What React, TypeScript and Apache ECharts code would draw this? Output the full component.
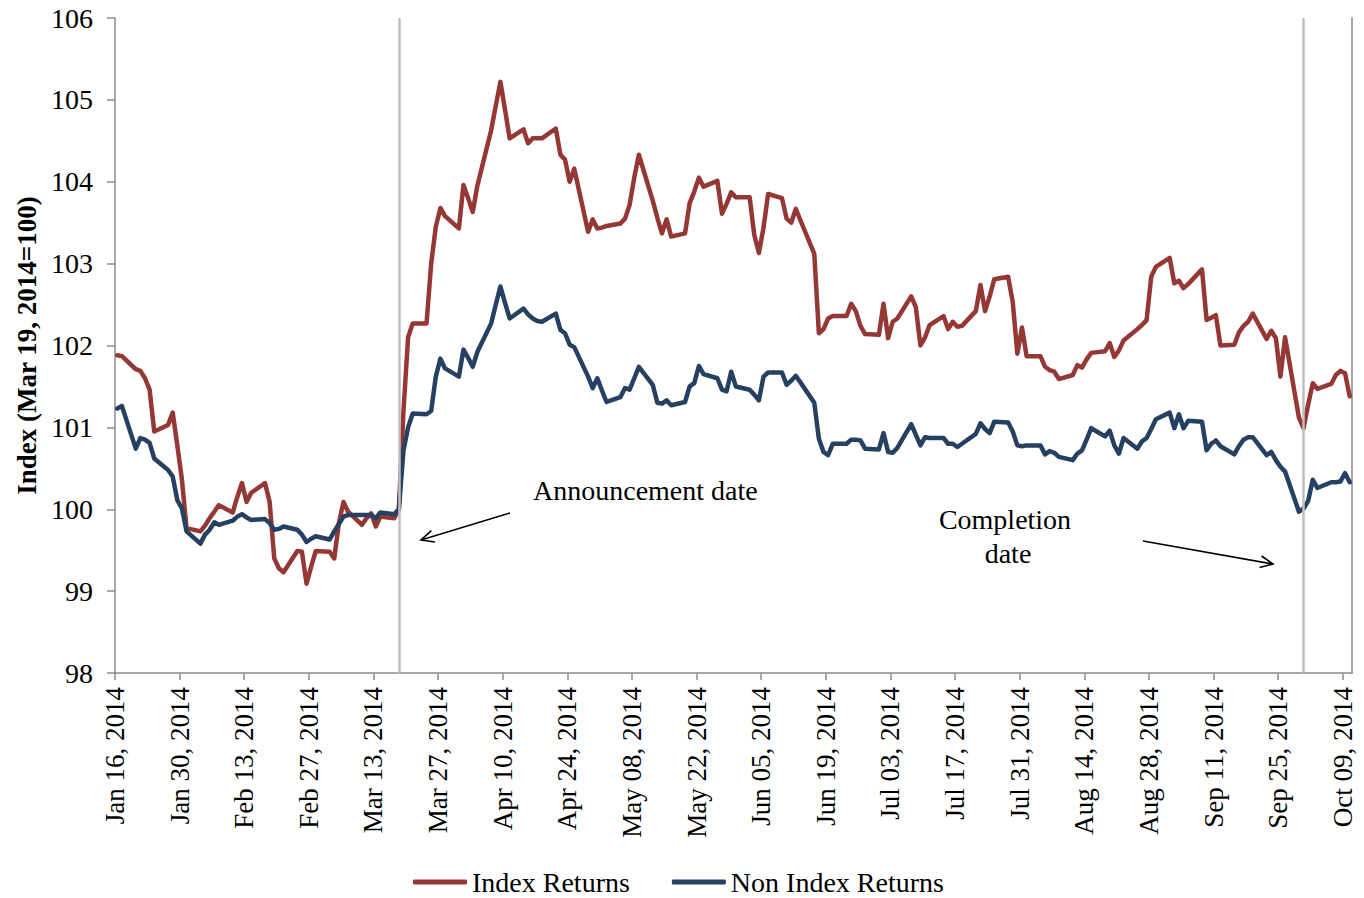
import React, { useEffect, useRef } from "react";
import * as echarts from "echarts";

// Trading days (one entry per point of both series)
const dates: string[] = [
  // January
  "2014-01-16", "2014-01-17", "2014-01-20", "2014-01-21", "2014-01-22", "2014-01-23", "2014-01-24",
  "2014-01-27", "2014-01-28", "2014-01-29", "2014-01-30", "2014-01-31",
  // February
  "2014-02-03", "2014-02-04", "2014-02-05", "2014-02-06", "2014-02-07", "2014-02-10", "2014-02-11",
  "2014-02-12", "2014-02-13", "2014-02-14", "2014-02-17", "2014-02-18", "2014-02-19", "2014-02-20",
  "2014-02-21", "2014-02-24", "2014-02-25", "2014-02-26", "2014-02-27", "2014-02-28",
  // March
  "2014-03-03", "2014-03-04", "2014-03-05", "2014-03-06", "2014-03-07", "2014-03-10", "2014-03-11",
  "2014-03-12", "2014-03-13", "2014-03-14", "2014-03-17", "2014-03-18", "2014-03-19", "2014-03-20",
  "2014-03-21", "2014-03-24", "2014-03-25", "2014-03-26", "2014-03-27", "2014-03-28", "2014-03-31",
  // April
  "2014-04-01", "2014-04-02", "2014-04-03", "2014-04-04", "2014-04-07", "2014-04-08", "2014-04-09",
  "2014-04-10", "2014-04-11", "2014-04-14", "2014-04-15", "2014-04-16", "2014-04-17", "2014-04-18",
  "2014-04-21", "2014-04-22", "2014-04-23", "2014-04-24", "2014-04-25", "2014-04-28", "2014-04-29",
  "2014-04-30",
  // May
  "2014-05-01", "2014-05-02", "2014-05-05", "2014-05-06", "2014-05-07", "2014-05-08", "2014-05-09",
  "2014-05-12", "2014-05-13", "2014-05-14", "2014-05-15", "2014-05-16", "2014-05-19", "2014-05-20",
  "2014-05-21", "2014-05-22", "2014-05-23", "2014-05-26", "2014-05-27", "2014-05-28", "2014-05-29",
  "2014-05-30",
  // June
  "2014-06-02", "2014-06-03", "2014-06-04", "2014-06-05", "2014-06-06", "2014-06-09", "2014-06-10",
  "2014-06-11", "2014-06-12", "2014-06-13", "2014-06-16", "2014-06-17", "2014-06-18", "2014-06-19",
  "2014-06-20", "2014-06-23", "2014-06-24", "2014-06-25", "2014-06-26", "2014-06-27", "2014-06-30",
  // July
  "2014-07-01", "2014-07-02", "2014-07-03", "2014-07-04", "2014-07-07", "2014-07-08", "2014-07-09",
  "2014-07-10", "2014-07-11", "2014-07-14", "2014-07-15", "2014-07-16", "2014-07-17", "2014-07-18",
  "2014-07-21", "2014-07-22", "2014-07-23", "2014-07-24", "2014-07-25", "2014-07-28", "2014-07-29",
  "2014-07-30", "2014-07-31",
  // August
  "2014-08-01", "2014-08-04", "2014-08-05", "2014-08-06", "2014-08-07", "2014-08-08", "2014-08-11",
  "2014-08-12", "2014-08-13", "2014-08-14", "2014-08-15", "2014-08-18", "2014-08-19", "2014-08-20",
  "2014-08-21", "2014-08-22", "2014-08-25", "2014-08-26", "2014-08-27", "2014-08-28", "2014-08-29",
  // September
  "2014-09-01", "2014-09-02", "2014-09-03", "2014-09-04", "2014-09-05", "2014-09-08", "2014-09-09",
  "2014-09-10", "2014-09-11", "2014-09-12", "2014-09-15", "2014-09-16", "2014-09-17", "2014-09-18",
  "2014-09-19", "2014-09-22", "2014-09-23", "2014-09-24", "2014-09-25", "2014-09-26", "2014-09-29",
  "2014-09-30",
  // October
  "2014-10-01", "2014-10-02", "2014-10-03", "2014-10-06", "2014-10-07", "2014-10-08", "2014-10-09",
  "2014-10-10",
];

const indexReturns: number[] = [
  // January
  101.88, 101.87, 101.71, 101.69, 101.60, 101.46, 100.95, 101.03, 101.18, 100.78, 100.36, 99.77,
  // February
  99.73, 99.80, 99.89, 99.97, 100.05, 99.96, 100.15, 100.32, 100.09, 100.20, 100.32, 100.09, 99.40, 99.28,
  99.23, 99.49, 99.48, 99.09, 99.30, 99.49,
  // March
  99.48, 99.40, 99.83, 100.09, 99.97, 99.81, 99.89, 99.95, 99.79, 99.91, 99.89, 100.00, 101.20, 102.10,
  102.27, 102.27, 103.00, 103.45, 103.68, 103.58, 103.43,
  // April
  103.96, 103.80, 103.63, 103.95, 104.63, 104.93, 105.22, 104.88, 104.53, 104.64, 104.47, 104.53, 104.53,
  104.53, 104.65, 104.33, 104.27, 104.00, 104.16, 103.39, 103.54, 103.43,
  // May
  103.44, 103.46, 103.49, 103.55, 103.72, 104.05, 104.33, 103.77, 103.56, 103.37, 103.54, 103.33, 103.37,
  103.74, 103.88, 104.05, 103.94, 104.01, 103.61, 103.73, 103.87, 103.81,
  // June
  103.81, 103.35, 103.13, 103.44, 103.85, 103.80, 103.55, 103.50, 103.67, 103.53, 103.12, 102.15, 102.20,
  102.33, 102.36, 102.36, 102.51, 102.42, 102.24, 102.14, 102.13,
  // July
  102.51, 102.09, 102.29, 102.33, 102.60, 102.47, 102.00, 102.10, 102.25, 102.36, 102.20, 102.29, 102.23,
  102.24, 102.42, 102.74, 102.42, 102.60, 102.81, 102.84, 102.53, 101.90, 102.22,
  // August
  101.87, 101.87, 101.74, 101.70, 101.68, 101.59, 101.64, 101.76, 101.73, 101.83, 101.91, 101.93, 102.03,
  101.86, 101.94, 102.06, 102.20, 102.25, 102.31, 102.84, 102.96,
  // September
  103.07, 102.76, 102.79, 102.70, 102.75, 102.93, 102.31, 102.34, 102.37, 102.00, 102.01, 102.16, 102.24,
  102.29, 102.39, 102.08, 102.18, 102.09, 101.62, 102.10, 101.12, 100.99,
  // October
  101.28, 101.54, 101.47, 101.53, 101.64, 101.69, 101.66, 101.38,
];

const nonIndexReturns: number[] = [
  // January
  101.23, 101.26, 100.74, 100.87, 100.85, 100.81, 100.62, 100.48, 100.40, 100.11, 100.01, 99.73,
  // February
  99.58, 99.69, 99.75, 99.84, 99.81, 99.86, 99.91, 99.94, 99.90, 99.87, 99.88, 99.83, 99.75, 99.76,
  99.79, 99.75, 99.69, 99.60, 99.64, 99.67,
  // March
  99.63, 99.73, 99.82, 99.91, 99.93, 99.93, 99.93, 99.93, 99.89, 99.96, 99.94, 100.00, 100.72, 101.00,
  101.17, 101.16, 101.20, 101.62, 101.84, 101.72, 101.62,
  // April
  101.95, 101.85, 101.74, 101.92, 102.27, 102.50, 102.72, 102.52, 102.33, 102.45, 102.38, 102.33, 102.30,
  102.29, 102.39, 102.19, 102.15, 102.01, 101.98, 101.62, 101.48, 101.60,
  // May
  101.45, 101.31, 101.37, 101.48, 101.46, 101.60, 101.74, 101.52, 101.30, 101.29, 101.33, 101.27, 101.31,
  101.50, 101.54, 101.75, 101.65, 101.60, 101.46, 101.44, 101.68, 101.50,
  // June
  101.46, 101.40, 101.33, 101.62, 101.67, 101.67, 101.52, 101.57, 101.63, 101.55, 101.30, 100.86, 100.70,
  100.66, 100.80, 100.80, 100.85, 100.85, 100.84, 100.74, 100.73,
  // July
  100.93, 100.70, 100.69, 100.75, 101.04, 100.91, 100.78, 100.88, 100.87, 100.87, 100.80, 100.80, 100.76,
  100.80, 100.92, 101.05, 100.98, 100.93, 101.07, 101.06, 100.95, 100.78, 100.77,
  // August
  100.78, 100.78, 100.67, 100.71, 100.69, 100.64, 100.60, 100.68, 100.72, 100.85, 100.99, 100.89, 100.96,
  100.78, 100.68, 100.87, 100.74, 100.83, 100.87, 100.98, 101.10,
  // September
  101.18, 100.99, 101.16, 100.99, 101.08, 101.07, 100.72, 100.80, 100.84, 100.77, 100.67, 100.77, 100.85,
  100.88, 100.88, 100.66, 100.70, 100.60, 100.52, 100.46, 99.97, 100.01,
  // October
  100.10, 100.36, 100.26, 100.33, 100.33, 100.34, 100.44, 100.33,
];

const xTickLabels: string[] = [
  "Jan 16, 2014", "Jan 30, 2014", "Feb 13, 2014", "Feb 27, 2014", "Mar 13, 2014",
  "Mar 27, 2014", "Apr 10, 2014", "Apr 24, 2014", "May 08, 2014", "May 22, 2014",
  "Jun 05, 2014", "Jun 19, 2014", "Jul 03, 2014", "Jul 17, 2014", "Jul 31, 2014",
  "Aug 14, 2014", "Aug 28, 2014", "Sep 11, 2014", "Sep 25, 2014", "Oct 09, 2014",
];

const axisStartDate = "2014-01-16";
const axisEndDate = "2014-10-11"; // exclusive end of the date axis
const tickStepDays = 14;
const yMin = 98;
const yMax = 106;
const yStep = 1;

const eventDates: string[] = ["2014-03-18", "2014-09-30"]; // announcement, completion

const seriesNames = ["Index Returns", "Non Index Returns"];
const seriesColors = ["#953735", "#254061"];

const FONT = '"Liberation Serif", "DejaVu Serif", serif';

const dayMs = 86400000;
const dayIndex = (d: string) =>
  (Date.parse(d + "T00:00:00Z") - Date.parse(axisStartDate + "T00:00:00Z")) / dayMs;

export default function App() {
  const ref = useRef<HTMLDivElement | null>(null);

  useEffect(() => {
    if (!ref.current) return;
    const chart = echarts.init(ref.current, undefined, { renderer: "svg" });
    const axisMax = dayIndex(axisEndDate);

    const toPoints = (vals: number[]) => dates.map((d, i) => [dayIndex(d) + 0.5, vals[i]]);

    const option: any = {
      animation: false,
      backgroundColor: "#ffffff",
      grid: { left: 115, right: 12, top: 18, bottom: 225, containLabel: false },
      legend: {
        data: seriesNames,
        left: 413,
        top: 868,
        padding: 0,
        icon: "roundRect",
        itemWidth: 54,
        itemHeight: 5,
        itemGap: 42,
        textStyle: { fontFamily: FONT, fontSize: 28, color: "#000", lineHeight: 28 },
      },
      xAxis: {
        type: "value",
        min: 0,
        max: axisMax,
        interval: tickStepDays,
        axisLine: { show: true, lineStyle: { color: "#8c8c8c", width: 1.5 } },
        axisTick: { show: true, length: 7, lineStyle: { color: "#8c8c8c", width: 1.5 } },
        splitLine: { show: false },
        axisLabel: {
          rotate: 90,
          margin: 14,
          fontFamily: FONT,
          fontSize: 27,
          color: "#000",
          showMaxLabel: false,
          formatter: (v: number) => {
            const i = v / tickStepDays;
            return Number.isInteger(i) && i < xTickLabels.length ? xTickLabels[i] : "";
          },
        },
      },
      yAxis: [
        {
          type: "value",
          min: yMin,
          max: yMax,
          interval: yStep,
          name: "Index (Mar 19, 2014=100)",
          nameLocation: "middle",
          nameGap: 74,
          nameRotate: 90,
          nameTextStyle: { fontFamily: FONT, fontSize: 27, fontWeight: "bold", color: "#000" },
          axisLine: { show: true, lineStyle: { color: "#8c8c8c", width: 1.5 } },
          axisTick: { show: true, length: 8, lineStyle: { color: "#8c8c8c", width: 1.5 } },
          splitLine: { show: false },
          axisLabel: { margin: 22, fontFamily: FONT, fontSize: 28, color: "#000" },
        },
        {
          type: "value",
          min: yMin,
          max: yMax,
          interval: yStep,
          position: "right",
          axisLine: { show: true, lineStyle: { color: "#a6a6a6", width: 2 } },
          axisTick: { show: false },
          axisLabel: { show: false },
          splitLine: { show: false },
        },
      ],
      series: [
        {
          name: "events",
          type: "line",
          data: [],
          z: 1,
          silent: true,
          markLine: {
            silent: true,
            symbol: ["none", "none"],
            label: { show: false },
            lineStyle: { color: "#bfbfbf", width: 2.5, type: "solid" },
            data: eventDates.map((d) => ({ xAxis: dayIndex(d) + 0.5 })),
          },
        },
        ...seriesNames.map((name, k) => ({
          name,
          type: "line",
          z: 3,
          symbol: "none",
          showSymbol: false,
          color: seriesColors[k],
          lineStyle: { color: seriesColors[k], width: 4.5, cap: "round", join: "round" },
          data: toPoints(k === 0 ? indexReturns : nonIndexReturns),
        })),
      ],
      graphic: [
        {
          type: "text",
          x: 533,
          y: 490,
          style: {
            text: "Announcement date",
            font: `28px ${FONT}`,
            fill: "#000",
            textAlign: "left",
            textVerticalAlign: "middle",
          },
        },
        {
          type: "line",
          shape: { x1: 510, y1: 513, x2: 421, y2: 540 },
          style: { stroke: "#000", lineWidth: 1.6 },
        },
        {
          type: "polyline",
          shape: { points: [[431.4, 530.6], [421, 540], [434.9, 542]] },
          style: { stroke: "#000", fill: null, lineWidth: 1.6 },
        },
        {
          type: "text",
          x: 1005,
          y: 519,
          style: {
            text: "Completion",
            font: `28px ${FONT}`,
            fill: "#000",
            textAlign: "center",
            textVerticalAlign: "middle",
          },
        },
        {
          type: "text",
          x: 1008,
          y: 553,
          style: {
            text: "date",
            font: `28px ${FONT}`,
            fill: "#000",
            textAlign: "center",
            textVerticalAlign: "middle",
          },
        },
        {
          type: "line",
          shape: { x1: 1143, y1: 541, x2: 1273, y2: 564 },
          style: { stroke: "#000", lineWidth: 1.6 },
        },
        {
          type: "polyline",
          shape: { points: [[1261.5, 556], [1273, 564], [1259.5, 567.6]] },
          style: { stroke: "#000", fill: null, lineWidth: 1.6 },
        },
      ],
    };

    chart.setOption(option);
    return () => chart.dispose();
  }, []);

  return (
    <div
      ref={ref}
      style={{ position: "absolute", left: 0, top: 0, width: 1364, height: 898 }}
    />
  );
}
